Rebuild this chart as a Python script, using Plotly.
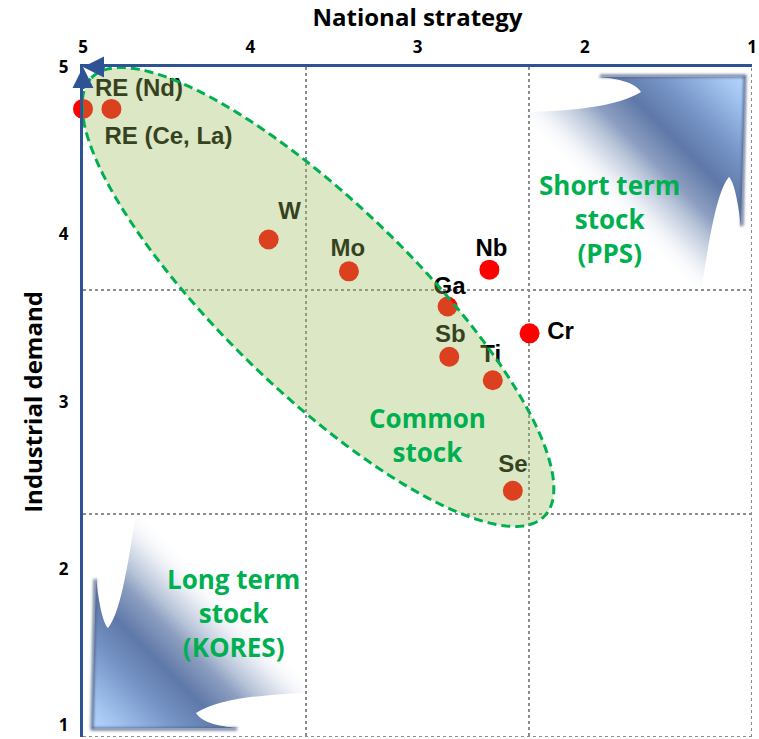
import base64
import numpy as np
import plotly.graph_objects as go

# ---------------- data ----------------
elements = ["RE (Nd)", "RE (Ce, La)", "W", "Mo", "Nb", "Ga", "Sb", "Ti", "Cr", "Se"]
national_strategy = [5.00, 4.83, 3.89, 3.41, 2.57, 2.82, 2.81, 2.55, 2.33, 2.43]
industrial_demand = [4.75, 4.75, 3.97, 3.78, 3.79, 3.57, 3.27, 3.13, 3.41, 2.47]

x_ticks = [5, 4, 3, 2, 1]
x_tick_text = ["5", "4", "3", "2", "1"]
y_ticks = [5, 4, 3, 2, 1.07]
y_tick_text = ["5", "4", "3", "2", "1"]
grid_thirds = [11 / 3, 7 / 3]

quadrant_texts = ["Short term<br>stock<br>(PPS)", "Common<br>stock", "Long term<br>stock<br>(KORES)"]
quadrant_x = [1.855, 2.943, 4.103]
quadrant_y = [4.093, 2.803, 1.740]

# label offsets from each point, in screen pixels (dx right, dy down)
label_dx = [56, 57, 21, -1, 2, 2, 1, -2, 31, 0]
label_dy = [-19, 29, -27, -21, -20, -19, -21, -24, 0, -25]

# ---------------- geometry helpers ----------------
W, H = 759, 739
ML, MR, MT, MB = 83, 7, 67, 2
px_x = (W - ML - MR) / 4.0
px_y = (H - MT - MB) / 4.0

lab_x = [x - dx / px_x for x, dx in zip(national_strategy, label_dx)]
lab_y = [y - dy / px_y for y, dy in zip(industrial_demand, label_dy)]

AX_BLUE = "#2E5395"
GREEN = "#00B050"
GRID = "#8C8C8C"

# ellipse (common stock zone)
t = np.linspace(0, 2 * np.pi, 241)
cx, cy, ea, eb, ang = 3.595, 3.627, 1.883, 0.565, np.deg2rad(44)
ex = cx + ea * np.cos(t) * np.cos(ang) - eb * np.sin(t) * np.sin(ang)
ey = cy + ea * np.cos(t) * np.sin(ang) + eb * np.sin(t) * np.cos(ang)
ell_path = "M " + " L ".join(f"{a:.4f},{b:.4f}" for a, b in zip(ex, ey)) + " Z"

# corner gradient arrows as an SVG overlay (plot-area pixel coordinates)
svg = f'''<svg xmlns="http://www.w3.org/2000/svg" xmlns:xlink="http://www.w3.org/1999/xlink" width="{W-ML-MR}" height="{H-MT-MB}" viewBox="{ML} {MT} {W-ML-MR} {H-MT-MB}" preserveAspectRatio="none">
<defs>
<linearGradient id="g" gradientUnits="userSpaceOnUse" x1="745" y1="77" x2="590" y2="232">
<stop offset="0" stop-color="#B6D7FC"/>
<stop offset="0.10" stop-color="#A0C2EE"/>
<stop offset="0.28" stop-color="#7694C6"/>
<stop offset="0.43" stop-color="#5E78A8"/>
<stop offset="0.57" stop-color="#7087B1" stop-opacity="0.8"/>
<stop offset="0.71" stop-color="#A9B8D3" stop-opacity="0.45"/>
<stop offset="0.86" stop-color="#FFFFFF" stop-opacity="0"/>
</linearGradient>
<filter id="b" x="-20%" y="-20%" width="140%" height="140%"><feGaussianBlur stdDeviation="1.6"/></filter>
<filter id="b2" x="-20%" y="-20%" width="140%" height="140%"><feGaussianBlur stdDeviation="0.7"/></filter>
</defs>
<g id="a">
<path d="M597,77 L745,77 L741,228 C738,200 734,182 729,177 C718,190 710,230 700,300 L700,340 L470,340 L470,112 C560,114 615,108 641,92 C635,82 615,78 597,77 Z" fill="url(#g)" filter="url(#b2)"/>
<path d="M600,76 L745,76 L742,226" fill="none" stroke="#44597F" stroke-width="2.5" filter="url(#b)"/>
</g>
<use xlink:href="#a" href="#a" transform="rotate(180 418.5 402.5)"/>
</svg>'''
svg_uri = "data:image/svg+xml;base64," + base64.b64encode(svg.encode()).decode()

# ---------------- figure ----------------
fig = go.Figure()

fig.add_trace(go.Scatter(
    x=national_strategy, y=industrial_demand, mode="markers",
    marker=dict(size=20, color="#FF0000", line=dict(width=0)),
    cliponaxis=False, hoverinfo="skip", showlegend=False,
))
fig.add_trace(go.Scatter(
    x=lab_x, y=lab_y, mode="text", text=elements, textposition="middle center",
    textfont=dict(family="Liberation Sans, Arial", size=24, color="black", weight="bold"),
    cliponaxis=False, hoverinfo="skip", showlegend=False,
))

shapes = [
    dict(type="line", xref="x", yref="y", x0=1, x1=1, y0=1, y1=5,
         line=dict(color=GRID, width=2, dash="dot"), layer="below"),
    dict(type="line", xref="x", yref="y", x0=1, x1=5, y0=1, y1=1,
         line=dict(color=GRID, width=2, dash="dot"), layer="below"),
    dict(type="path", xref="x", yref="y", path=ell_path,
         fillcolor="rgba(155,187,89,0.35)",
         line=dict(color=GREEN, width=3, dash="9px,5px"), layer="above"),
]

annotations = []
for txt, qx, qy in zip(quadrant_texts, quadrant_x, quadrant_y):
    annotations.append(dict(
        x=qx, y=qy, xref="x", yref="y", text=txt, showarrow=False,
        font=dict(family="Open Sans", size=26, color=GREEN, weight="bold"),
        align="center", xanchor="center", yanchor="middle",
    ))
# axis arrows
annotations.append(dict(x=5, y=5, ax=4.86, ay=5, xref="x", yref="y", axref="x", ayref="y",
                        text="", showarrow=True, arrowhead=2, arrowsize=1.4,
                        arrowwidth=3, arrowcolor=AX_BLUE, standoff=0))
annotations.append(dict(x=5, y=5, ax=5, ay=4.86, xref="x", yref="y", axref="x", ayref="y",
                        text="", showarrow=True, arrowhead=2, arrowsize=1.4,
                        arrowwidth=3, arrowcolor=AX_BLUE, standoff=0))

fig.update_layout(
    width=W, height=H,
    margin=dict(l=ML, r=MR, t=MT, b=MB, autoexpand=False),
    paper_bgcolor="white", plot_bgcolor="rgba(0,0,0,0)",
    shapes=shapes, annotations=annotations,
    images=[dict(source=svg_uri, xref="paper", yref="paper", x=0, y=1,
                 sizex=1, sizey=1, xanchor="left", yanchor="top",
                 sizing="stretch", layer="below")],
    xaxis=dict(
        range=[5, 1], side="top", tickmode="array", tickvals=x_ticks,
        ticktext=x_tick_text, automargin=False,
        showgrid=False, zeroline=False, ticks="",
        showline=True, linecolor=AX_BLUE, linewidth=3,
        tickfont=dict(family="Open Sans", size=17, color="black", weight="bold"),
        ticklabelstandoff=4,
        minor=dict(tickmode="array", tickvals=grid_thirds, showgrid=True,
                   gridcolor=GRID, gridwidth=2, griddash="dot", ticks=""),
        title=dict(text="National strategy", standoff=6,
                   font=dict(family="Open Sans", size=24, color="black", weight="bold")),
    ),
    yaxis=dict(
        range=[1, 5], tickmode="array", tickvals=y_ticks,
        ticktext=y_tick_text, ticklabeloverflow="allow", automargin=False,
        showgrid=False, zeroline=False, ticks="",
        showline=True, linecolor=AX_BLUE, linewidth=3,
        tickfont=dict(family="Open Sans", size=17, color="black", weight="bold"),
        ticklabelstandoff=8,
        minor=dict(tickmode="array", tickvals=grid_thirds, showgrid=True,
                   gridcolor=GRID, gridwidth=2, griddash="dot", ticks=""),
        title=dict(text="Industrial demand", standoff=10,
                   font=dict(family="Open Sans", size=24, color="black", weight="bold")),
    ),
)

fig.write_html("out.html")
